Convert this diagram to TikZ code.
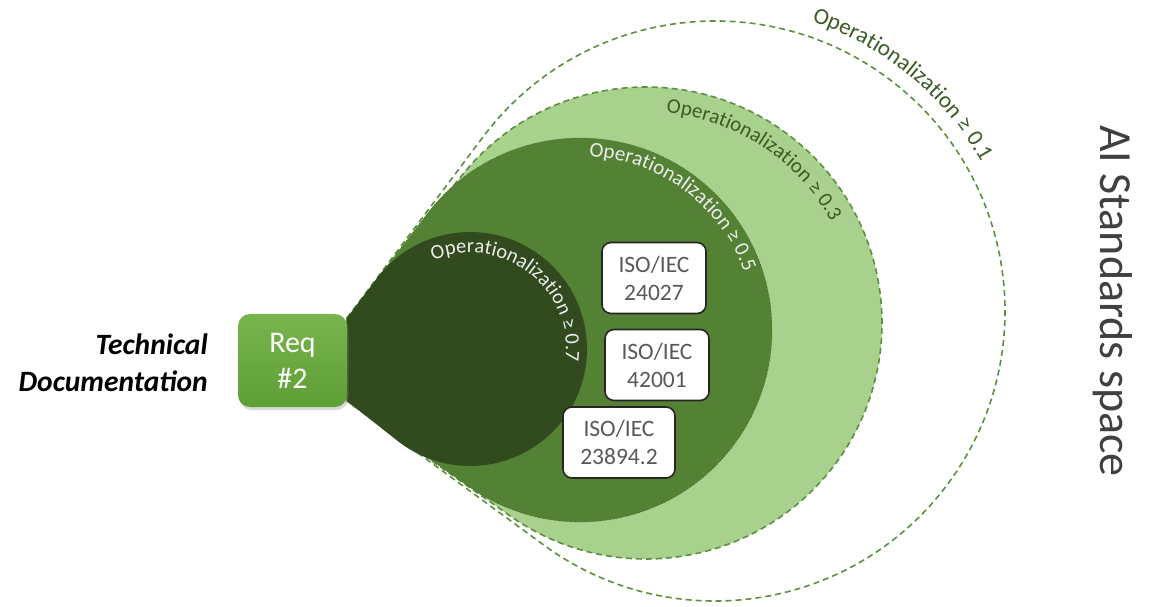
\documentclass[tikz,border=0pt]{standalone}
\usepackage{fontspec}
\setmainfont{Carlito}
\usetikzlibrary{calc,decorations.text,shadows}

\definecolor{lightgr}{HTML}{A9D18E}
\definecolor{midgr}{HTML}{548235}
\definecolor{darkgr}{HTML}{314B1F}
\definecolor{dashgr}{HTML}{5E8F3E}
\definecolor{labelgr}{HTML}{3A5C24}
\definecolor{isogray}{HTML}{595959}
\definecolor{isoedge}{HTML}{262626}
\definecolor{reqtop}{HTML}{78B44E}
\definecolor{reqbot}{HTML}{5E9F35}
\definecolor{titlegray}{HTML}{404040}

% Angles (deg) of the two tangent points of a circle (cx,cy,r) seen from
% the upper and lower apex of the teardrop: (347,288) and (347,205).
\newcommand\tanangles[3]{%
  \pgfmathsetmacro\angA{atan2((#2-288)/100,(#1-347)/100)+90+asin((#3/100)/veclen((#1-347)/100,(#2-288)/100))}%
  \pgfmathsetmacro\angB{atan2((#2-205)/100,(#1-347)/100)-90-asin((#3/100)/veclen((#1-347)/100,(#2-205)/100))}%
}

\tikzset{
  isobox/.style={draw=isoedge, line width=1.6pt, fill=white, rounded corners=9pt,
    minimum width=104pt, minimum height=71pt, inner sep=0pt, align=center,
    text=isogray, font=\fontsize{23.5}{28}\selectfont},
  reqbox/.style={rounded corners=12pt, top color=reqtop, bottom color=reqbot,
    minimum width=109pt, minimum height=93pt, inner sep=0pt, align=center,
    text=white, font=\fontsize{30}{36}\selectfont,
    drop shadow={opacity=0.3, shadow xshift=1.5pt, shadow yshift=-3pt}},
  dashline/.style={draw=dashgr, line width=1.6pt, dash pattern=on 6pt off 4pt},
}

\begin{document}
\begin{tikzpicture}[x=1pt,y=1pt]
\useasboundingbox (0,0) rectangle (1149,606);

\coordinate (apexU) at (347,288);
\coordinate (apexL) at (347,205);

% widest zone: dashed outline only
\tanangles{715}{295}{290}
\draw[dashline] (apexU) -- ([shift={(\angA:290)}]715,295)
  arc[start angle=\angA, end angle=\angB, radius=290pt] -- (apexL) -- cycle;

% light green zone
\tanangles{646}{283}{236}
\fill[lightgr] (apexU) -- ([shift={(\angA:236)}]646,283)
  arc[start angle=\angA, end angle=\angB, radius=236pt] -- (apexL) -- cycle;
\draw[dashline] (apexU) -- ([shift={(\angA:236)}]646,283)
  arc[start angle=\angA, end angle=\angB, radius=236pt] -- (apexL) -- cycle;

% medium green zone
\tanangles{580}{276}{192}
\fill[midgr] (apexU) -- ([shift={(\angA:192)}]580,276)
  arc[start angle=\angA, end angle=\angB, radius=192pt] -- (apexL) -- cycle;
\draw[draw=midgr!75!black, line width=0.7pt, dotted] (apexU) -- ([shift={(\angA:192)}]580,276)
  arc[start angle=\angA, end angle=\angB, radius=192pt] -- (apexL) -- cycle;

% dark green zone
\tanangles{470}{257}{117}
\fill[darkgr] (apexU) -- ([shift={(\angA:117)}]470,257)
  arc[start angle=\angA, end angle=\angB, radius=117pt] -- (apexL) -- cycle;

% curved zone labels
\path[decorate, decoration={text along path, text align=left,
  text={|\fontsize{23}{27}\selectfont\color{labelgr}|Operationalization ≥ 0.1}}]
  ([shift={(71.5:305)}]715,295) arc[start angle=71.5, end angle=-10, radius=305pt];
\path[decorate, decoration={text along path, text align=left,
  text={|\fontsize{21}{25}\selectfont\color{labelgr}|Operationalization ≥ 0.3}}]
  ([shift={(84.5:211)}]646,283) arc[start angle=84.5, end angle=-20, radius=211pt];
\path[decorate, decoration={text along path, text align=left,
  text={|\fontsize{21}{25}\selectfont\color{white!92!black}|Operationalization ≥ 0.5}}]
  ([shift={(87:174)}]580,276) arc[start angle=87, end angle=-30, radius=174pt];
\path[decorate, decoration={text along path, text align=left,
  text={|\fontsize{20.5}{24}\selectfont\color{white!92!black}|Operationalization ≥ 0.7}}]
  ([shift={(112.5:96)}]470,257) arc[start angle=112.5, end angle=-60, radius=96pt];

% standards
\node[isobox] (iso1) at (654,328) {ISO/IEC\\24027};
\node[isobox] (iso2) at (657,241) {ISO/IEC\\42001};
\node[isobox, minimum width=112pt] (iso3) at (619,163.5) {ISO/IEC\\23894.2};

% requirement
\node[reqbox] (req) at (292.5,245.5) {Req\\\#2};
\node[anchor=east, inner sep=0pt, align=right,
  font=\fontsize{29.5}{37}\selectfont\bfseries\itshape] (reqname) at (208,243)
  {Technical\\Documentation};

% space title
\node[rotate=-90, anchor=base, inner sep=0pt, text=titlegray,
  font=\fontsize{46}{50}\selectfont] (space) at (1100,305) {AI Standards space};
\end{tikzpicture}
\end{document}
